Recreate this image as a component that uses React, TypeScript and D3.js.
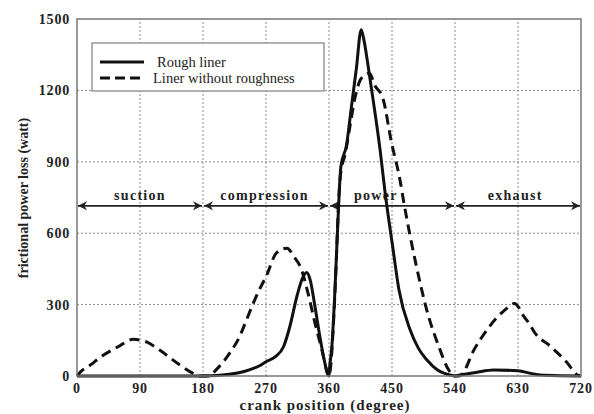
import React from "react";
import * as d3 from "d3";

const width = 594;
const height = 414;
const margin = { top: 19, right: 13, bottom: 38, left: 77 };

// crank angle (degree) and frictional power loss (watt)
const roughDeg = [0, 180, 200, 220, 240, 260, 270, 283, 295, 304, 314, 322, 328, 333, 340, 347, 353, 358, 360, 361, 364, 368, 372, 377, 385, 392, 399, 406, 410, 415, 421, 427, 433, 440, 451, 460, 476, 488, 500, 515, 533, 540, 545, 570, 595, 630, 650, 670, 720];
const roughVal = [0, 0, 2, 8, 20, 42, 60, 80, 123, 207, 333, 410, 435, 405, 291, 165, 70, 10, 0, 39, 120, 330, 600, 880, 970, 1130, 1290, 1455, 1410, 1320, 1200, 1080, 950, 774, 543, 361, 193, 115, 67, 25, 4, 0, 3, 15, 25, 22, 10, 3, 0];

const smoothDeg = [0, 2, 19, 38, 60, 80, 100, 118, 147, 166, 175, 188, 200, 219, 233, 240, 251, 260, 270, 285, 300, 310, 320, 330, 340, 350, 358, 360, 363, 366, 370, 374, 377, 383, 390, 397, 406, 418, 425, 437, 449, 461, 468, 484, 501, 517, 531, 538, 545, 549, 567, 589, 611, 625, 632, 637, 646, 653, 677, 701, 713, 720];
const smoothVal = [0, 8, 46, 88, 125, 154, 142, 109, 46, 11, 0, 0, 30, 100, 170, 220, 300, 360, 417, 517, 537, 501, 453, 348, 222, 108, 10, 0, 60, 200, 450, 750, 860, 930, 1050, 1167, 1250, 1272, 1223, 1167, 985, 830, 711, 473, 263, 123, 25, 0, 0, 4, 109, 207, 277, 305, 284, 256, 221, 186, 123, 53, 8, 0];

const xTicks = [0, 90, 180, 270, 360, 450, 540, 630, 720];
const yTicks = [0, 300, 600, 900, 1200, 1500];

const strokes = [
  { name: "suction", from: 0, to: 180, labelAt: 90 },
  { name: "compression", from: 180, to: 360, labelAt: 268 },
  { name: "power", from: 360, to: 540, labelAt: 427 },
  { name: "exhaust", from: 540, to: 720, labelAt: 626 },
];
const strokeLevel = 715;

const font = "'Liberation Serif', 'Times New Roman', serif";

const App = () => {
  const x = d3.scaleLinear().domain([0, 720]).range([margin.left, width - margin.right]);
  const y = d3.scaleLinear().domain([0, 1500]).range([height - margin.bottom, margin.top]);

  const line = d3
    .line<number>()
    .x((d) => d)
    .y((d) => d)
    .curve(d3.curveMonotoneX);

  const path = (degs: number[], vals: number[]) =>
    d3
      .line<number>()
      .x((d, i) => x(degs[i]))
      .y((d) => y(d))
      .curve(d3.curveMonotoneX)(vals);

  const grid = "#8a8a8a";
  const ink = "#111";
  const ya = y(strokeLevel);

  return (
    <svg width={width} height={height} style={{ position: "absolute", left: 0, top: 0 }} fontFamily={font}>
      <defs>
        <marker id="arr" viewBox="0 0 10 10" refX="10" refY="5" markerWidth="9" markerHeight="9" orient="auto-start-reverse" markerUnits="userSpaceOnUse">
          <path d="M0,0 L10,5 L0,10 L3,5 Z" fill="#222" />
        </marker>
      </defs>
      <rect width={width} height={height} fill="#fff" />

      {/* grid */}
      {xTicks.slice(1, -1).map((t) => (
        <line key={`gx${t}`} x1={x(t)} x2={x(t)} y1={y(0)} y2={y(1500)} stroke={grid} strokeWidth={1} strokeDasharray="2,2" />
      ))}
      {yTicks.slice(1, -1).map((t) => (
        <line key={`gy${t}`} x1={x(0)} x2={x(720)} y1={y(t)} y2={y(t)} stroke={grid} strokeWidth={1} strokeDasharray="2,2" />
      ))}

      {/* stroke arrows */}
      {strokes.map((s) => (
        <g key={s.name}>
          <line x1={x(s.from) + 1} x2={x(s.to) - 1} y1={ya} y2={ya} stroke="#222" strokeWidth={1.6} markerStart="url(#arr)" markerEnd="url(#arr)" />
          <text x={x(s.labelAt)} y={ya - 6} textAnchor="middle" fontSize={14} fontWeight="bold" letterSpacing={1.3} fill="#222">
            {s.name}
          </text>
        </g>
      ))}

      {/* curves */}
      <path d={path(smoothDeg, smoothVal) || ""} fill="none" stroke={ink} strokeWidth={3} strokeDasharray="10,6" />
      <path d={path(roughDeg, roughVal) || ""} fill="none" stroke={ink} strokeWidth={3} />

      {/* frame */}
      <rect x={x(0)} y={y(1500)} width={x(720) - x(0)} height={y(0) - y(1500)} fill="none" stroke="#777" strokeWidth={1.5} />

      {/* legend */}
      <rect x={92} y={43} width={232} height={48} fill="#fff" stroke="#666" strokeWidth={1} />
      <line x1={100} x2={144} y1={62} y2={62} stroke={ink} strokeWidth={3} />
      <line x1={100} x2={144} y1={78} y2={78} stroke={ink} strokeWidth={3} strokeDasharray="10,5" />
      <text x={157} y={67} fontSize={14.5} fill="#222">Rough liner</text>
      <text x={153} y={83} fontSize={14.5} fill="#222">Liner without roughness</text>

      {/* ticks */}
      {xTicks.map((t) => (
        <text key={`tx${t}`} x={x(t)} y={y(0) + 17} textAnchor="middle" fontSize={14} fontWeight="bold" letterSpacing={0.8} fill="#222">
          {t}
        </text>
      ))}
      {yTicks.map((t) => (
        <text key={`ty${t}`} x={x(0) - 7} y={y(t) + 5} textAnchor="end" fontSize={14} fontWeight="bold" letterSpacing={0.8} fill="#222">
          {t}
        </text>
      ))}

      {/* axis titles */}
      <text x={325} y={410} textAnchor="middle" fontSize={15} fontWeight="bold" letterSpacing={1} fill="#222">
        crank position (degree)
      </text>
      <text transform="translate(23,198) rotate(-90)" textAnchor="middle" dy={5} fontSize={14} fontWeight="bold" fill="#222">
        frictional power loss (watt)
      </text>
    </svg>
  );
};

export default App;
